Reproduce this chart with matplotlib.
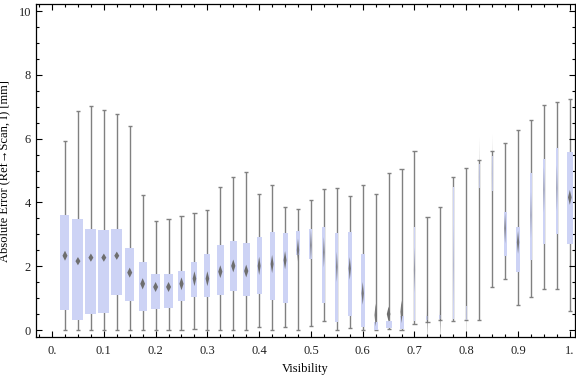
import numpy as np
import matplotlib
matplotlib.use('Agg')
import matplotlib.pyplot as plt
from matplotlib.ticker import MultipleLocator

# visibility bins (bin centres)
visibility = [0.025, 0.05, 0.075, 0.1, 0.125, 0.15, 0.175, 0.2, 0.225, 0.25,
              0.275, 0.3, 0.325, 0.35, 0.375, 0.4, 0.425, 0.45, 0.475, 0.5,
              0.525, 0.55, 0.575, 0.6, 0.625, 0.65, 0.675, 0.7, 0.725, 0.75,
              0.775, 0.8, 0.825, 0.85, 0.875, 0.9, 0.925, 0.95, 0.975, 1.0]

# absolute error statistics per bin [mm]
whisker_lo = [0, 0, 0, 0, 0, 0, 0, 0, 0, 0,
              0.03, 0, 0, 0, 0, 0.08, 0, 0.08, 0, 0.12,
              0.27, 0, 0.05, 0, 0, 0.03, 0, 0.19, 0.25, 0.31,
              0.28, 0.31, 0.33, 1.34, 1.59, 0.77, 1.05, 1.28, 1.28, 0.61]
q1 = [0.63, 0.31, 0.50, 0.54, 1.11, 0.92, 0.61, 0.67, 0.69, 0.92,
      1.05, 1.05, 1.11, 1.23, 1.08, 1.14, 0.95, 0.86, 2.35, 2.23,
      0.84, 0.25, 0.44, 0.09, 0.0, 0.06, 0.03, 0.28, 0.31, 0.34,
      0.34, 0.31, 4.44, 4.37, 2.32, 1.83, 2.19, 2.70, 3.01, 2.70]
median = [2.33, 2.16, 2.27, 2.27, 2.33, 1.80, 1.45, 1.35, 1.35, 1.45,
          1.61, 1.61, 1.83, 2.01, 1.85, 2.01, 2.07, 2.19, 2.51, 2.66,
          2.44, 1.98, 1.93, 1.15, 0.47, 0.50, 0.57, 1.88, 0.38, 0.40,
          2.04, 0.50, 4.80, 4.90, 3.19, 2.75, 3.60, 4.40, 4.45, 4.16]
q3 = [3.60, 3.48, 3.17, 3.13, 3.17, 2.57, 2.13, 1.76, 1.76, 1.85,
      2.13, 2.38, 2.66, 2.79, 2.73, 2.92, 3.07, 3.04, 3.10, 3.17,
      3.23, 3.04, 3.07, 2.38, 0.25, 0.28, 0.44, 3.23, 0.44, 0.47,
      4.50, 0.75, 5.22, 5.45, 3.70, 3.23, 4.92, 5.35, 5.70, 5.57]
whisker_hi = [5.93, 6.88, 7.04, 6.90, 6.79, 6.39, 4.22, 3.41, 3.47, 3.59,
              3.66, 3.75, 4.47, 4.79, 4.97, 4.28, 4.54, 3.85, 3.81, 4.08,
              4.41, 4.44, 4.19, 4.54, 4.28, 4.91, 5.04, 5.63, 3.53, 3.85,
              4.79, 5.07, 5.32, 5.63, 5.85, 6.26, 6.60, 7.07, 7.14, 7.23]
# relative sample count per bin (sets box width)
rel_count = [0.82, 1.0, 1.0, 1.0, 1.0, 0.82, 0.73, 0.82, 0.82, 0.64,
             0.55, 0.55, 0.64, 0.64, 0.64, 0.45, 0.45, 0.45, 0.36, 0.27,
             0.27, 0.27, 0.36, 0.36, 0.36, 0.55, 0.36, 0.18, 0.18, 0.18,
             0.09, 0.09, 0.09, 0.09, 0.27, 0.36, 0.18, 0.18, 0.18, 0.55]

box_color = '#cdd3f5'
whisker_color = '#808080'
median_color = '#6e6e6e'
serif = ['Liberation Serif', 'DejaVu Serif']

fig = plt.figure(figsize=(5.76, 3.77), dpi=100)
ax = fig.add_axes([0.0625, 0.106, 0.9355, 0.883])
ax.set_xlim(-0.031, 1.0097)
ax.set_ylim(-0.22, 10.22)

x = np.array(visibility)
widths = np.array(rel_count) * 0.0212
cap = 0.008

ax.vlines(x, whisker_lo, whisker_hi, color=whisker_color, lw=1.0, zorder=1)
ax.hlines(whisker_lo, x - cap / 2, x + cap / 2, color=whisker_color, lw=1.0, zorder=1)
ax.hlines(whisker_hi, x - cap / 2, x + cap / 2, color=whisker_color, lw=1.0, zorder=1)

ax.bar(x, np.array(q3) - np.array(q1), bottom=q1, width=widths,
       color=box_color, edgecolor='none', zorder=2)

# median diamonds (stretched in narrow boxes)
px_x = 1.0 / 518
px_y = 1.0 / 31.9
for xi, m, w in zip(x, median, widths):
    w_px = w / px_x
    hw = min(2.5, 0.3 * w_px) * px_x
    hh = min(45.0 / w_px, 40) * px_y
    alpha = min(1.0, 0.25 + w_px / 6.0)
    ax.fill([xi - hw, xi, xi + hw, xi], [m, m + hh, m, m - hh],
            color=median_color, alpha=alpha, lw=0, zorder=3)

ax.xaxis.set_major_locator(MultipleLocator(0.1))
ax.xaxis.set_minor_locator(MultipleLocator(0.025))
ax.yaxis.set_major_locator(MultipleLocator(2))
ax.yaxis.set_minor_locator(MultipleLocator(0.5))
ax.set_xticks(np.arange(0, 1.01, 0.1))
ax.set_xticklabels(['0.', '0.1', '0.2', '0.3', '0.4', '0.5', '0.6', '0.7', '0.8', '0.9', '1.'])
ax.tick_params(which='both', direction='in', top=True, right=True, width=0.8,
               colors='black', labelsize=9, labelcolor='#222222')
ax.tick_params(which='major', length=4.5)
ax.tick_params(which='minor', length=2.5)
ax.tick_params(axis='x', pad=6)
for lab in ax.get_xticklabels() + ax.get_yticklabels():
    lab.set_family(serif)
for sp in ax.spines.values():
    sp.set_linewidth(0.9)

ax.set_xlabel('Visibility', family=serif, fontsize=9, labelpad=4)
ax.set_ylabel('Absolute Error (Ref\u2192Scan, I) [mm]', family=serif, fontsize=9)
ax.yaxis.set_label_coords(-0.047, 0.5)

fig.savefig('out.png', dpi=100)
plt.close(fig)
